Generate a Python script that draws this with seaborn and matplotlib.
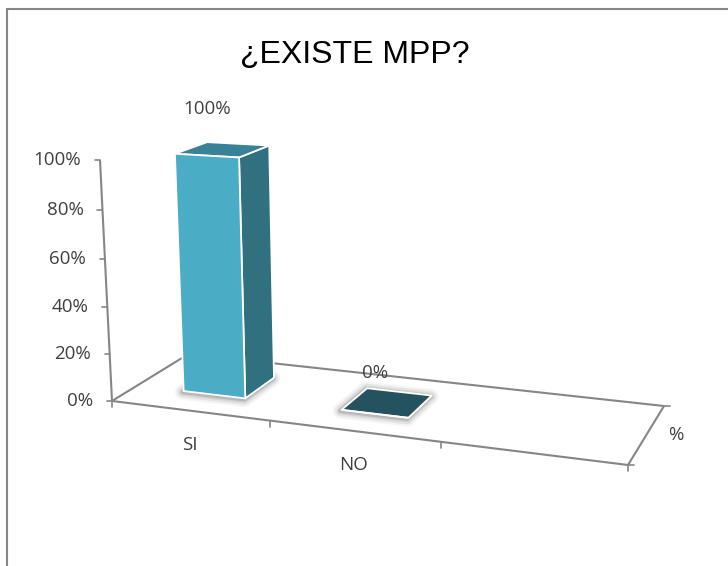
import numpy as np
import pandas as pd
import matplotlib
matplotlib.use("Agg")
import matplotlib.pyplot as plt
import matplotlib.transforms as mtransforms
import seaborn as sns

# Chart content
title = "¿EXISTE MPP?"
categories = ["SI", "NO"]
values = [1.0, 0.0]
value_labels = ["100%", "0%"]
value_ticks = [0.0, 0.2, 0.4, 0.6, 0.8, 1.0]
value_tick_labels = ["0%", "20%", "40%", "60%", "80%", "100%"]
series_name = "%"
slot_count = 3

# Colours
FRONT = "#4BACC6"
SIDE = "#31707F"
TOP_COLORS = ["#378297", "#25525F"]
AXIS = "#868686"
TEXT = "#404040"

# Bar footprint inside a category slot and along the depth axis
BAR_WIDTH = 0.40
SLOT_CENTER = 0.51
DEPTH_NEAR, DEPTH_FAR = 0.31, 0.73
LABEL_LIFT = [47, 41]

# Camera: the floor plane from its four corners, verticals from their vanishing point
floor_world = [(0, 0), (slot_count, 0), (slot_count, 1), (0, 1)]
floor_pixel = [(112, 401), (628, 465), (664, 406), (188.5, 354)]
vertical_vanishing = (389.0, 5961.0)
full_scale_y = 160.0


def solve_camera():
    rows = []
    for (X, Z), (px, py) in zip(floor_world, floor_pixel):
        h = [X, Z, 1.0]
        rows.append(h + [0, 0, 0] + [-px * c for c in h])
        rows.append([0, 0, 0] + h + [-py * c for c in h])
    H = np.linalg.svd(np.array(rows))[2][-1].reshape(3, 3)
    H = H / H[2, 2]
    base_y = H[1, 2]
    scale = (full_scale_y - base_y) / (vertical_vanishing[1] - full_scale_y)
    up = scale * np.array([vertical_vanishing[0], vertical_vanishing[1], 1.0])
    return np.column_stack([H[:, 0], up, H[:, 1], H[:, 2]])


CAMERA = solve_camera()


def project(u, v, w):
    u, v, w = np.broadcast_arrays(np.asarray(u, float), np.asarray(v, float), np.asarray(w, float))
    h = CAMERA @ np.stack([u, v, w, np.ones_like(u)])
    return np.stack([h[0] / h[2], h[1] / h[2]], axis=0)


class FaceProjection(mtransforms.Transform):
    """Maps (category position, value) on a plane of constant depth to the canvas."""
    input_dims = 2
    output_dims = 2
    is_separable = False

    def __init__(self, plane_depth):
        super().__init__()
        self.plane_depth = plane_depth

    def transform_non_affine(self, values):
        values = np.asarray(values, float)
        return project(values[:, 0] + SLOT_CENTER, values[:, 1], self.plane_depth).T


sns.set_theme(style="white")
plt.rcParams["font.family"] = ["Open Sans", "DejaVu Sans"]
LABEL_SIZE = 13.5

fig = plt.figure(figsize=(7.28, 5.66), dpi=100)
ax = fig.add_axes([0, 0, 1, 1])

frame = pd.DataFrame({"category": categories, "value": values})
sns.barplot(data=frame, x="category", y="value", color=FRONT, saturation=1,
            width=BAR_WIDTH, errorbar=None, edgecolor="white", linewidth=1.3, ax=ax)

ax.set_xlim(0, 728)
ax.set_ylim(566, 0)
ax.set_autoscale_on(False)
ax.set_xticks([])
ax.set_yticks([])
ax.set_xlabel("")
ax.set_ylabel("")
for spine in ax.spines.values():
    spine.set_visible(False)


def line3d(start, end, **kw):
    pts = np.array([project(*start), project(*end)])
    ax.plot(pts[:, 0], pts[:, 1], color=AXIS, lw=1.5, solid_capstyle="butt", zorder=1, **kw)


# Outer chart frame
ax.plot([6.5, 6.5, 728], [566, 8.5, 8.5], color=AXIS, lw=1.5, zorder=0, solid_joinstyle="miter")

# Floor outline
line3d((0, 0, 0), (slot_count, 0, 0))
line3d((0, 0, 0), (0, 0, 1))
line3d((slot_count, 0, 0), (slot_count, 0, 1))
line3d((0, 0, 1), (slot_count, 0, 1))

# Value axis and its ticks
line3d((0, 0, 0), (0, 1, 0))
for tick, tick_label in zip(value_ticks, value_tick_labels):
    px, py = project(0, tick, 0)
    ax.plot([px - 5, px], [py, py], color=AXIS, lw=1.2, zorder=1)
    ax.text(px - 19, py, tick_label, ha="right", va="center", color=TEXT, fontsize=LABEL_SIZE)

# Category ticks on the front edge, depth ticks at the right edge
for slot in range(slot_count + 1):
    px, py = project(slot, 0, 0)
    ax.plot([px, px], [py, py + 6], color=AXIS, lw=1.2, zorder=1)
for depth in (0, 1):
    px, py = project(slot_count, 0, depth)
    ax.plot([px, px + 6], [py, py], color=AXIS, lw=1.2, zorder=1)

# Category and series labels
for pos, cat in enumerate(categories):
    px, py = project(pos + 0.5, 0, 0)
    ax.text(px + 0.5, py + 34, cat, ha="center", va="center", color=TEXT, fontsize=LABEL_SIZE)
px, py = project(slot_count, 0, 0.5)
ax.text(px + 29, py + 1, series_name, ha="center", va="center", color=TEXT, fontsize=LABEL_SIZE)

# Bars: seaborn draws the front faces, depth faces come from the same rectangles
for patch, top_color, label, lift in zip(list(ax.patches)[:len(categories)], TOP_COLORS,
                                         value_labels, LABEL_LIFT):
    x0, x1 = patch.get_x(), patch.get_x() + patch.get_width()
    top = patch.get_height()
    u0, u1 = x0 + SLOT_CENTER, x1 + SLOT_CENTER
    near_far = [DEPTH_NEAR, DEPTH_NEAR, DEPTH_FAR, DEPTH_FAR]

    # Soft contact shadow built up from widening translucent outlines
    floor = project([u0, u1, u1, u0], 0, near_far)
    for lw, alpha in [(11, 0.06), (8, 0.09), (5, 0.12), (3, 0.18)]:
        ax.fill(floor[0] - 1, floor[1] + 1, facecolor="none", edgecolor="#4A4A4A", lw=lw,
                alpha=alpha, zorder=1.5, joinstyle="round")

    side = project(u1, [0, top, top, 0], near_far)
    ax.fill(side[0], side[1], facecolor=SIDE, edgecolor="white", lw=1.3, zorder=2, joinstyle="round")
    cap = project([u0, u1, u1, u0], top, near_far)
    ax.fill(cap[0], cap[1], facecolor=top_color, edgecolor="white", lw=1.3, zorder=2, joinstyle="round")

    patch.set_transform(FaceProjection(DEPTH_NEAR) + ax.transData)
    patch.set_zorder(3)

    px, py = project((u0 + u1) / 2, top, DEPTH_NEAR)
    ax.text(px, py - lift, label, ha="center", va="center", color=TEXT, fontsize=LABEL_SIZE, zorder=4)

ax.text(354.5, 55, title, ha="center", va="center", color="black", fontsize=23,
        family=["Liberation Sans", "DejaVu Sans"])

fig.savefig("out.png", dpi=100, facecolor="white")
